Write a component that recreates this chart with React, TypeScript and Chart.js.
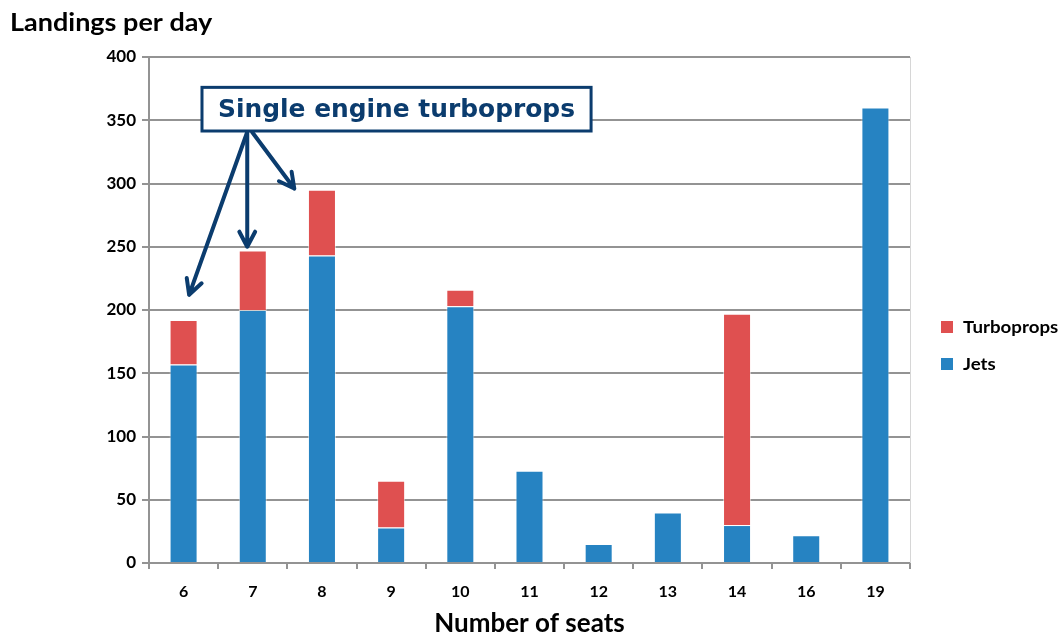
import React, { useEffect, useRef } from 'react';
import { Chart, registerables } from 'chart.js';

Chart.register(...registerables);

// Seat-count categories and daily landings per aircraft type
const seats = ['6', '7', '8', '9', '10', '11', '12', '13', '14', '16', '19'];
const jets = [157, 200, 243, 28, 203, 73, 15, 40, 30, 22, 360];
const turboprops = [35, 47, 52, 37, 13, null, null, null, 167, null, null];

// Arrow targets for the single-engine callout: [category position, value]
const calloutTargets: [number, number][] = [
  [0.08, 212],
  [0.92, 250],
  [1.6, 296],
];

const NAVY = '#0B3C6E';
const RED = '#DF5050';
const BLUE = '#2683C2';
const GRID = '#939393';
const FONT = 'Lato, "Open Sans", sans-serif';

function arrow(ctx: CanvasRenderingContext2D, x0: number, y0: number, x1: number, y1: number) {
  const ang = Math.atan2(y1 - y0, x1 - x0);
  const head = 17;
  const spread = Math.PI / 6.5;
  ctx.beginPath();
  ctx.moveTo(x0, y0);
  ctx.lineTo(x1, y1);
  ctx.moveTo(x1 - head * Math.cos(ang - spread), y1 - head * Math.sin(ang - spread));
  ctx.lineTo(x1, y1);
  ctx.lineTo(x1 - head * Math.cos(ang + spread), y1 - head * Math.sin(ang + spread));
  ctx.stroke();
}

// Draws text slightly widened, as in the original slide typography
function wideText(ctx: CanvasRenderingContext2D, text: string, x: number, y: number, stretch: number) {
  ctx.save();
  ctx.translate(x, y);
  ctx.scale(stretch, 1);
  ctx.fillText(text, 0, 0);
  ctx.restore();
}

const overlay = {
  id: 'overlay',
  afterDraw(chart: any) {
    const { ctx, chartArea, scales } = chart;
    const xs = scales.x;
    const ys = scales.y;
    ctx.save();

    // thin frame on the right side of the plot
    ctx.strokeStyle = '#d6d6d6';
    ctx.lineWidth = 1;
    ctx.beginPath();
    ctx.moveTo(Math.round(chartArea.right) + 0.5, chartArea.top);
    ctx.lineTo(Math.round(chartArea.right) + 0.5, chartArea.bottom);
    ctx.stroke();

    // vertical-axis heading
    ctx.fillStyle = '#000';
    ctx.textBaseline = 'middle';
    ctx.textAlign = 'left';
    ctx.font = `bold 25px ${FONT}`;
    wideText(ctx, 'Landings per day', 10, 23, 1.08);

    // legend (stack order reversed: top segment first)
    const legend: [string, string][] = [
      ['Turboprops', RED],
      ['Jets', BLUE],
    ];
    const lx = chartArea.right + 31;
    legend.forEach(([label, color], i) => {
      const cy = 327 + i * 37;
      ctx.fillStyle = color;
      ctx.fillRect(lx, cy - 6, 12, 12);
      ctx.fillStyle = '#000';
      ctx.font = `bold 17px ${FONT}`;
      wideText(ctx, label, lx + 22, cy + 1, 1.1);
    });

    // callout box
    const bx0 = xs.getPixelForValue(0.266);
    const bx1 = xs.getPixelForValue(5.89);
    const by0 = ys.getPixelForValue(376);
    const by1 = ys.getPixelForValue(341.5);
    ctx.fillStyle = '#fff';
    ctx.fillRect(bx0, by0, bx1 - bx0, by1 - by0);
    ctx.strokeStyle = NAVY;
    ctx.lineWidth = 3;
    ctx.strokeRect(bx0, by0, bx1 - bx0, by1 - by0);

    const text = 'Single engine turboprops';
    ctx.font = `bold 22px "DejaVu Sans", Verdana, sans-serif`;
    const w = ctx.measureText(text).width;
    const target = (bx1 - bx0) - 32;
    const size = 22 * target / w;
    ctx.font = `bold ${size.toFixed(2)}px "DejaVu Sans", Verdana, sans-serif`;
    ctx.fillStyle = NAVY;
    ctx.textAlign = 'center';
    ctx.fillText(text, (bx0 + bx1) / 2, (by0 + by1) / 2 + 1);

    // arrows from the callout to the stacked bars
    ctx.lineWidth = 4;
    ctx.lineCap = 'round';
    ctx.lineJoin = 'round';
    const starts = [0.92, 0.92, 0.99];
    calloutTargets.forEach(([cx, v], i) => {
      arrow(ctx, xs.getPixelForValue(starts[i]), by1 + 1, xs.getPixelForValue(cx), ys.getPixelForValue(v));
    });

    ctx.restore();
  },
};

export default function App() {
  const ref = useRef<HTMLCanvasElement>(null);

  useEffect(() => {
    if (!ref.current) return;
    const chart = new Chart(ref.current, {
      type: 'bar',
      data: {
        labels: seats,
        datasets: [
          {
            label: 'Jets',
            data: jets,
            backgroundColor: BLUE,
            borderColor: 'rgba(255,255,255,0.55)',
            borderWidth: 1,
            barPercentage: 0.405,
            categoryPercentage: 1,
          },
          {
            label: 'Turboprops',
            data: turboprops,
            backgroundColor: RED,
            borderColor: 'rgba(255,255,255,0.55)',
            borderWidth: 1,
            barPercentage: 0.405,
            categoryPercentage: 1,
          },
        ],
      },
      options: {
        animation: false,
        responsive: true,
        maintainAspectRatio: false,
        layout: { padding: { top: 57, right: 154, left: 0, bottom: 0 } },
        plugins: {
          legend: { display: false },
          tooltip: { enabled: false },
        },
        scales: {
          x: {
            stacked: true,
            afterFit: (s: any) => {
              s.height = 74;
            },
            border: { color: GRID, width: 2 },
            grid: {
              offset: true,
              drawOnChartArea: false,
              drawTicks: true,
              tickLength: 6,
              color: GRID,
              lineWidth: 2,
            },
            ticks: {
              color: '#000',
              padding: 13,
              font: { family: FONT, weight: 'bold', size: 16 },
            },
            title: {
              display: true,
              text: 'Number of seats',
              color: '#000',
              padding: 0,
              font: { family: FONT, weight: 'bold', size: 26, lineHeight: 1 },
            },
          },
          y: {
            stacked: true,
            min: 0,
            max: 400,
            afterFit: (s: any) => {
              s.width = 149;
            },
            border: { color: GRID, width: 2 },
            grid: {
              color: GRID,
              lineWidth: 2,
              tickLength: 7,
            },
            ticks: {
              stepSize: 50,
              color: '#000',
              padding: 6,
              font: { family: FONT, weight: 'bold', size: 17 },
            },
          },
        },
      },
      plugins: [overlay],
    });
    return () => chart.destroy();
  }, []);

  return (
    <div style={{ position: 'absolute', left: 0, top: 0, width: 1064, height: 637, background: '#fff' }}>
      <canvas ref={ref} />
    </div>
  );
}
